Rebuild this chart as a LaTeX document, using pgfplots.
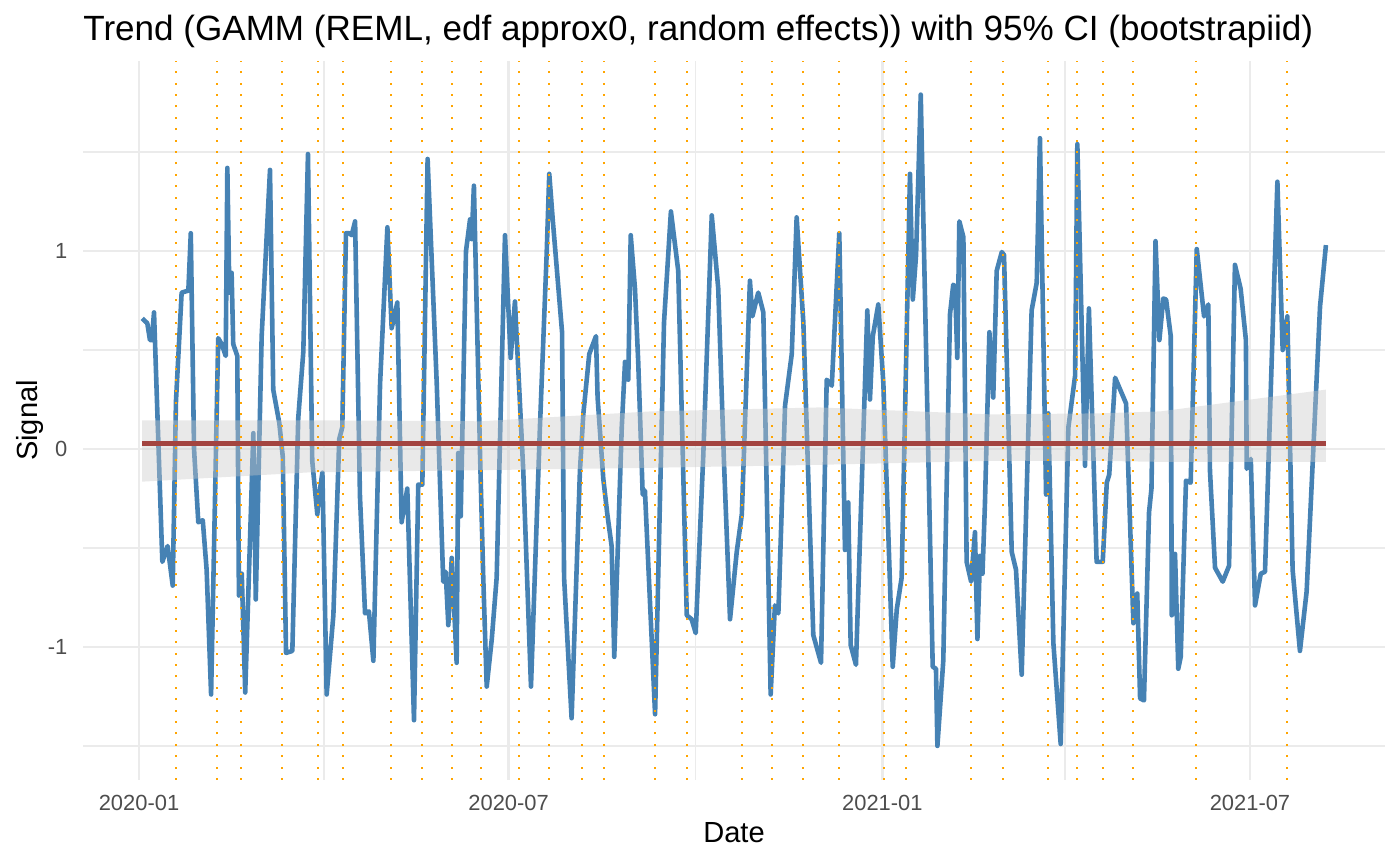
\documentclass[border=0pt]{standalone}
\usepackage{fontspec}
\setmainfont{Liberation Sans}
\usepackage{pgfplots}
\usepackage{pgfplotstable}
\pgfplotsset{compat=1.18}

\definecolor{steel}{RGB}{70,130,180}
\definecolor{trendred}{RGB}{163,68,64}
\definecolor{gridgrey}{RGB}{235,235,235}
\definecolor{ticktext}{RGB}{77,77,77}
\definecolor{ribbongrey}{RGB}{200,200,200}
\definecolor{breakorange}{RGB}{255,165,0}

% signal: days since 2020-01-01, value
\pgfplotstableread{
day value
1.6 0.66
4.1 0.635
5.4 0.55
6.3 0.55
7.4 0.69
11.5 -0.57
14.1 -0.49
16.6 -0.69
18.2 0.24
21.0 0.79
24.3 0.80
25.5 1.09
27.1 0.0
29.2 -0.37
31.4 -0.36
33.3 -0.61
35.5 -1.24
39.0 0.56
40.7 0.53
42.7 0.47
43.5 1.42
44.5 0.79
45.6 0.89
46.4 0.53
48.4 0.47
49.2 -0.74
50.6 -0.63
52.3 -1.23
56.3 0.08
57.5 -0.76
60.4 0.57
64.5 1.41
66.1 0.30
69.1 0.13
70.8 -0.04
72.4 -1.03
75.5 -1.02
78.4 0.155
80.9 0.49
83.2 1.49
85.3 -0.06
87.8 -0.33
88.6 -0.24
90.3 -0.12
92.4 -1.24
95.7 -0.84
98.6 0.05
100.1 0.11
101.9 1.09
103.5 1.09
104.7 1.08
106.4 1.15
108.8 -0.24
111.3 -0.83
113.2 -0.82
115.4 -1.07
118.7 0.33
122.3 1.12
124.4 0.61
127.2 0.74
129.3 -0.37
132.1 -0.20
135.4 -1.37
137.5 -0.18
139.5 -0.18
142.1 1.465
146.6 0.33
149.8 -0.67
151.0 -0.62
152.3 -0.89
154.0 -0.55
154.8 -0.72
156.4 -1.08
157.2 -0.02
158.4 -0.34
161.0 1.0
163.0 1.16
163.8 1.06
164.9 1.33
167.9 -0.02
169.5 -0.65
171.2 -1.20
173.7 -0.96
176.1 -0.65
180.2 1.08
183.0 0.46
185.1 0.745
189.2 -0.11
193.0 -1.20
197.4 0.11
200.7 0.98
202.0 1.39
203.7 1.16
208.3 0.59
209.3 -0.65
213.0 -1.36
217.1 -0.11
218.8 0.18
221.7 0.48
225.0 0.57
225.8 0.26
228.6 -0.15
230.6 -0.33
232.7 -0.49
234.0 -1.05
237.7 0.11
239.3 0.44
240.9 0.35
242.1 1.08
244.2 0.81
245.8 0.44
248.0 -0.23
249.1 -0.21
254.1 -1.34
258.5 0.64
261.9 1.20
265.5 0.90
269.7 -0.84
272.1 -0.86
274.1 -0.93
277.8 -0.04
282.0 1.18
285.2 0.81
288.0 -0.06
291.0 -0.86
294.3 -0.52
296.8 -0.33
300.8 0.85
302.0 0.67
304.9 0.79
307.4 0.69
311.0 -1.24
313.1 -0.79
314.8 -0.83
318.1 0.22
321.4 0.48
323.8 1.17
327.1 0.64
332.0 -0.94
335.8 -1.08
338.6 0.35
341.1 0.32
344.8 1.09
347.6 -0.51
349.2 -0.27
350.4 -0.99
353.0 -1.09
358.6 0.70
359.9 0.25
361.3 0.57
364.0 0.73
366.5 0.33
371.1 -1.10
373.1 -0.81
375.5 -0.65
379.6 1.39
381.0 0.755
382.6 0.98
384.9 1.79
390.8 -1.10
392.4 -1.11
393.1 -1.50
396.0 -1.07
399.3 0.68
400.9 0.83
401.8 0.82
402.9 0.46
403.9 1.15
405.9 1.07
407.5 -0.57
409.7 -0.67
411.6 -0.42
412.8 -0.96
414.1 -0.54
415.3 -0.63
416.5 -0.28
418.7 0.59
420.6 0.26
422.3 0.90
424.8 0.995
425.9 0.98
429.7 -0.52
431.8 -0.61
434.6 -1.14
439.5 0.70
442.0 0.84
443.6 1.57
446.6 -0.23
447.7 0.18
450.2 -0.98
453.8 -1.49
457.6 0.11
460.9 0.37
462.0 1.54
465.8 -0.085
467.7 0.71
471.5 -0.57
474.5 -0.57
476.5 -0.17
477.7 -0.13
480.6 0.36
486.0 0.23
489.6 -0.88
491.5 -0.73
492.9 -1.26
494.8 -1.27
497.3 -0.32
498.5 -0.2
500.5 1.05
502.4 0.55
504.3 0.76
505.7 0.755
508.0 0.57
508.5 -0.84
510.1 -0.53
511.7 -1.11
512.9 -1.05
515.5 -0.16
517.8 -0.17
520.8 1.01
524.4 0.67
526.5 0.73
527.3 -0.11
529.8 -0.60
533.6 -0.67
536.7 -0.59
539.6 0.93
542.4 0.81
545.0 0.55
545.4 -0.10
547.4 -0.05
549.5 -0.79
552.3 -0.63
554.4 -0.62
560.5 1.35
563.1 0.50
565.4 0.67
568.0 -0.61
571.6 -1.02
574.9 -0.72
581.5 0.72
584.4 1.03
}\signal

% confidence band: upper edge left to right, lower edge right to left
\pgfplotstableread{
day value
1.6 0.145
84 0.145
168 0.14
252 0.19
335 0.21
419 0.175
473 0.18
503 0.19
584.4 0.30
584.4 -0.065
503 -0.065
473 -0.06
419 -0.06
335 -0.08
252 -0.095
168 -0.107
84 -0.118
1.6 -0.165
}\band

\begin{document}
\begin{tikzpicture}
\path[use as bounding box] (0,0) rectangle (700bp,432.5bp);
\begin{axis}[
  at={(41.5bp,42.5bp)}, anchor=south west,
  scale only axis, width=651bp, height=359.5bp,
  xmin=-27.57, xmax=613.49, ymin=-1.672, ymax=1.96,
  axis line style={draw=none},
  major tick length=0pt, minor tick length=0pt,
  xtick={0,182,366,547},
  xticklabels={2020-01,2020-07,2021-01,2021-07},
  minor xtick={91,274,456},
  ytick={-1,0,1}, yticklabels={-1,0,1},
  minor ytick={-1.5,-0.5,0.5,1.5},
  grid=both,
  major grid style={gridgrey, line width=1.4bp},
  minor grid style={gridgrey, line width=0.75bp},
  ticklabel style={font=\fontsize{11}{13}\selectfont, text=ticktext, inner sep=0pt},
  xticklabel style={anchor=north, yshift=-7.5bp},
  yticklabel style={anchor=east, xshift=-7.65bp},
  title={Trend (GAMM (REML, edf approx0, random effects)) with 95\% CI (bootstrapiid)},
  every axis title shift=0pt,
  title style={font=\fontsize{17.6}{21}\selectfont, inner sep=0pt,
    anchor=base west, at={(axis description cs:0,1.0282)}},
  xlabel={Date}, ylabel={Signal},
  label style={font=\fontsize{14.6}{17}\selectfont, inner sep=0pt},
  xlabel style={at={(axis description cs:0.5,-0.0876)}, anchor=base},
  ylabel style={at={(axis description cs:-0.0346,0.5)}, anchor=base},
]
\addplot[steel, line width=2.3bp, line join=round] table[x=day, y=value] {\signal};
\addplot[draw=none, fill=ribbongrey, fill opacity=0.4] table[x=day, y=value] {\band} -- cycle;
\addplot[trendred, line width=2.6bp] coordinates {(1.6,0.028) (584.4,0.028)};
\pgfplotsinvokeforeach{18.4,38.4,50.4,70.4,88.3,100.3,124.2,139.2,154.3,168.2,187.2,202.0,218.1,229.1,253.9,270.0,297.0,311.8,326.9,344.8,366.8,377.8,409.8,425.6,447.7,461.7,474.6,489.6,520.6,565.4}{
  \addplot[breakorange, line width=1bp, dash pattern=on 1bp off 4.7bp] coordinates {(#1,-1.672) (#1,1.96)};
}
\end{axis}
\end{tikzpicture}
\end{document}
